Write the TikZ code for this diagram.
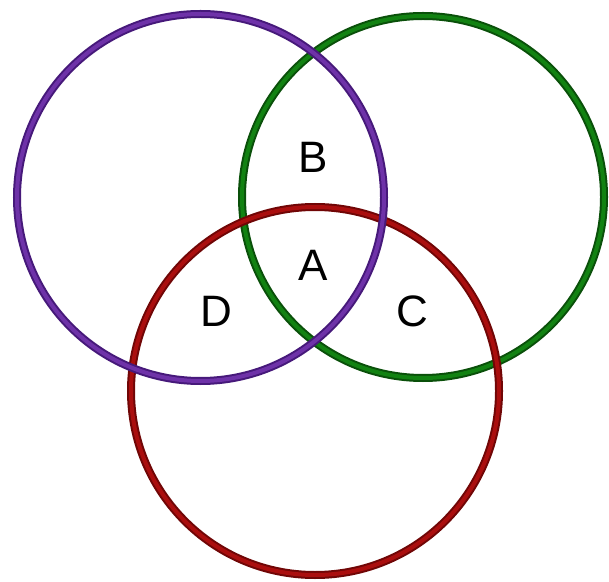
\documentclass[tikz,border=0pt]{standalone}
\usepackage{fontspec}
\setmainfont{Liberation Sans}
\usetikzlibrary{positioning}
\definecolor{PurpleDk}{HTML}{46197A}
\definecolor{PurpleLt}{HTML}{6E32A8}
\definecolor{GreenDk}{HTML}{0A500A}
\definecolor{GreenLt}{HTML}{128212}
\definecolor{RedDk}{HTML}{700606}
\definecolor{RedLt}{HTML}{AA0E0E}
\tikzset{
  ring/.style={circle, inner sep=0pt, outer sep=0pt, line width=2pt, double distance=4pt},
  letter/.style={font=\fontsize{44}{44}\selectfont, inner sep=0pt}
}

\begin{document}
\begin{tikzpicture}[x=1pt, y=1pt]
  \useasboundingbox (0,0) rectangle (609,581);
  \node[ring, draw=GreenDk, double=GreenLt, minimum size=362pt] (green) at (423,384) {};
  \node[ring, draw=RedDk, double=RedLt, minimum size=368pt] (red) at (315,190) {};
  \node[ring, draw=PurpleDk, double=PurpleLt, minimum size=367pt] (purple) at (200.5,383.5) {};
  \node[letter] (b) at (313,424) {B};
  \node[letter] (a) at (313,316) {A};
  \node[letter] (d) at (216,270) {D};
  \node[letter] (c) at (412,270) {C};
\end{tikzpicture}
\end{document}
